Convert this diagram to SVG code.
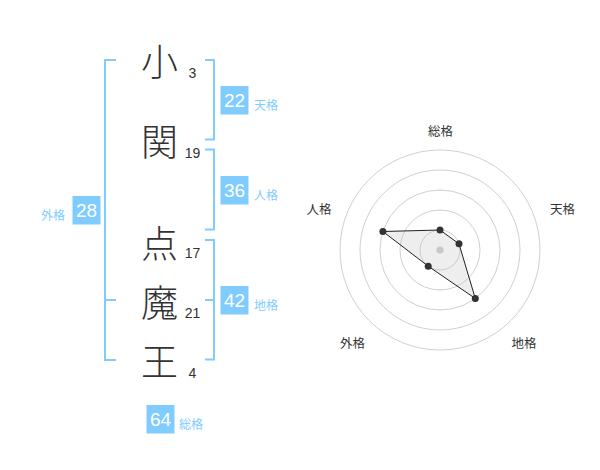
<svg xmlns="http://www.w3.org/2000/svg" width="600" height="470" viewBox="0 0 600 470">
<style>
.ch{font-family:"Noto Sans CJK JP","Noto Sans CJK SC",sans-serif;font-size:37px;font-weight:300;fill:#333;text-anchor:middle;dominant-baseline:central}
.num{font-family:"Liberation Sans",Arial,sans-serif;font-size:14px;fill:#333;text-anchor:middle}
.br{fill:none;stroke:#80ccff;stroke-width:2}
.box{fill:#80ccff}
.bn{font-family:"Liberation Sans",Arial,sans-serif;font-size:19px;fill:#fff;text-anchor:middle;dominant-baseline:central}
.bl{font-family:"Noto Sans CJK JP",sans-serif;font-size:12px;fill:#80ccff;dominant-baseline:central}
.ring{fill:none;stroke:#d0d0d0;stroke-width:1}
.rl{font-family:"Noto Sans CJK JP",sans-serif;font-size:12.5px;fill:#333;text-anchor:middle;dominant-baseline:central}
.dot{fill:#333}
</style>
<g id="name">
<g id="c1"><text class="ch" x="159.5" y="60">小</text><text class="num" x="192.5" y="77.5">3</text></g>
<g id="c2"><text class="ch" x="159.5" y="140">関</text><text class="num" x="192.5" y="158">19</text></g>
<g id="c3"><text class="ch" x="159.5" y="242">点</text><text class="num" x="192.5" y="257.5">17</text></g>
<g id="c4"><text class="ch" x="159.5" y="300.5">魔</text><text class="num" x="192.5" y="317.5">21</text></g>
<g id="c5"><text class="ch" x="159.5" y="360">王</text><text class="num" x="192.5" y="377.5">4</text></g>
</g>
<g id="connectors">
<path class="br" d="M116,60 H105 V360 H116 M105,300 H116"/>
<path class="br" d="M205,60 H214 V139.5 H205"/>
<path class="br" d="M205,149.5 H214 V229.5 H205"/>
<path class="br" d="M205,240 H214 V359.5 H205 M214,300 H205"/>
</g>
<g id="tenkaku"><rect class="box" x="220.5" y="86" width="28" height="28.5"/><text class="bn" x="234.5" y="100.5">22</text><text class="bl" x="254" y="104">天格</text></g>
<g id="jinkaku"><rect class="box" x="220.5" y="176" width="28" height="28.5"/><text class="bn" x="234.5" y="190.5">36</text><text class="bl" x="254" y="194">人格</text></g>
<g id="chikaku"><rect class="box" x="220.5" y="286" width="28" height="28.5"/><text class="bn" x="234.5" y="300.5">42</text><text class="bl" x="254" y="304">地格</text></g>
<g id="gaikaku"><rect class="box" x="72.5" y="196" width="28" height="28.5"/><text class="bn" x="86.5" y="210.5">28</text><text class="bl" x="41" y="214">外格</text></g>
<g id="soukaku"><rect class="box" x="146.5" y="405" width="28" height="28.5"/><text class="bn" x="160.5" y="419.5">64</text><text class="bl" x="179" y="423">総格</text></g>
<g id="radar">
<circle class="ring" cx="440" cy="250" r="20"/>
<circle class="ring" cx="440" cy="250" r="40"/>
<circle class="ring" cx="440" cy="250" r="60"/>
<circle class="ring" cx="440" cy="250" r="80"/>
<circle class="ring" cx="440" cy="250" r="100"/>
<circle cx="440" cy="250" r="3.5" fill="#ccc"/>
<polygon points="440,230 459,243.8 475.3,298.5 428.2,266.2 382.9,231.5" fill="#bbb" fill-opacity="0.25" stroke="#222" stroke-width="1"/>
<circle class="dot" cx="440" cy="230" r="3.5"/>
<circle class="dot" cx="459" cy="243.8" r="3.5"/>
<circle class="dot" cx="475.3" cy="298.5" r="3.5"/>
<circle class="dot" cx="428.2" cy="266.2" r="3.5"/>
<circle class="dot" cx="382.9" cy="231.5" r="3.5"/>
<text class="rl" x="440.5" y="130.5">総格</text>
<text class="rl" x="562.5" y="208">天格</text>
<text class="rl" x="319" y="208">人格</text>
<text class="rl" x="352.5" y="342">外格</text>
<text class="rl" x="524" y="342">地格</text>
</g>
</svg>
